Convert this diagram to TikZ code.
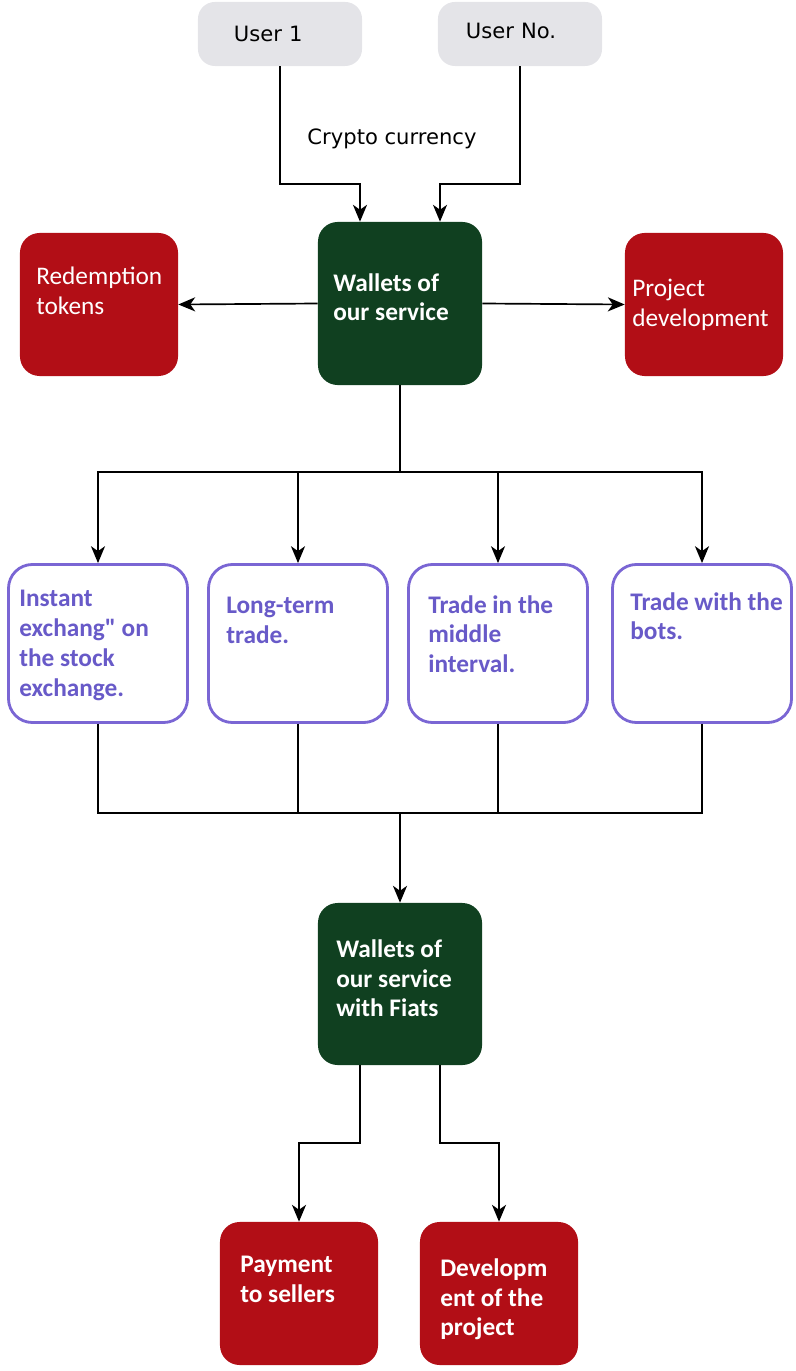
\documentclass[tikz,border=0pt]{standalone}
\usepackage{fontspec}
\setmainfont{Carlito}[Ligatures=TeXOff]
\newfontfamily\dejavu{DejaVu Sans}
\usetikzlibrary{arrows.meta}
\definecolor{usergray}{RGB}{228,228,232}
\definecolor{walletgreen}{RGB}{16,64,32}
\definecolor{tokenred}{RGB}{178,14,22}
\definecolor{tradeline}{RGB}{122,102,212}
\definecolor{tradetext}{RGB}{104,90,200}
\tikzset{
  userbox/.style={rectangle, rounded corners=12pt, fill=usergray, minimum width=4.1cm, minimum height=1.6cm, text width=3.3cm, font=\dejavu\fontsize{15}{18}\selectfont},
  walletbox/.style={rectangle, rounded corners=14pt, fill=walletgreen, minimum width=4.1cm},
  redbox/.style={rectangle, rounded corners=14pt, fill=tokenred, minimum width=3.95cm, minimum height=3.575cm},
  tradebox/.style={rectangle, rounded corners=17pt, draw=tradeline, line width=2pt, minimum width=4.475cm, minimum height=3.95cm},
  boxtext/.style={anchor=north west, inner sep=0pt, align=left, text=white, font=\fontsize{18}{21.3}\selectfont},
  boldtext/.style={boxtext, font=\bfseries\fontsize{18}{21.3}\selectfont},
  tradetxt/.style={boldtext, text=tradetext},
  line/.style={line width=1.2pt},
  arr/.style={line, -{Stealth[length=12pt, width=10pt, inset=3.5pt]}}
}
\begin{document}
\begin{tikzpicture}[x=0.025cm, y=-0.025cm]
\useasboundingbox (0,0) rectangle (795,1371);
\node[userbox] (user1) at (280,34) {\hspace{0.5cm}User 1};
\node[userbox] (userN) at (520,34) {\raisebox{4pt}{\hspace{0.3cm}User No.}};
\node[font=\dejavu\fontsize{15}{18}\selectfont] (crypto) at (392,139) {Crypto currency};
\node[walletbox, minimum height=4.075cm] (wallet) at (400,303.5) {};
\node[redbox] (redeem) at (99,304.5) {};
\node[redbox] (project) at (704,304.5) {};
\node[tradebox] (instant) at (98,643.5) {};
\node[tradebox] (longterm) at (298,643.5) {};
\node[tradebox] (middle) at (498,643.5) {};
\node[tradebox] (bots) at (702,643.5) {};
\node[walletbox, minimum height=4.05cm] (fiat) at (400,984) {};
\node[redbox] (payment) at (299,1293.5) {};
\node[redbox] (develop) at (499,1293.5) {};
% texts sit in the upper left of their boxes
\node[boxtext] (redeemtext) at (36,267) {Redemption\\tokens};
\node[boldtext] (wallettext) at (333,273) {Wallets of\\our service};
\node[boxtext] (projecttext) at (632,279) {Project\\development};
\node[tradetxt] (instanttext) at (19,590) {Instant\\exchang" on\\the stock\\exchange.};
\node[tradetxt] (longtermtext) at (226,597) {Long-term\\trade.};
\node[tradetxt] (middletext) at (428,595) {Trade in the\\middle\\interval.};
\node[tradetxt] (botstext) at (630,592) {Trade with the\\bots.};
\node[boldtext] (fiattext) at (336,939) {Wallets of\\our service\\with Fiats};
\node[boldtext] (paymenttext) at (240,1256) {Payment\\to sellers};
\node[boldtext] (developtext) at (440,1258) {Developm\\ent of the\\project};
% connectors
\draw[arr] (user1.south) -- ++(0,118) -| ([xshift=-1cm]wallet.north);
\draw[arr] (userN.south) -- ++(0,118) -| ([xshift=1cm]wallet.north);
\draw[arr] (wallet.west) -- (redeem.east);
\draw[arr] (wallet.east) -- (project.west);
\draw[line] (wallet.south) -- ++(0,87) coordinate (split);
\foreach \b in {instant,longterm,middle,bots} \draw[arr] (split) -| (\b.north);
\coordinate (merge) at (400,813);
\foreach \b in {instant,longterm,middle,bots} \draw[line] (\b.south) |- (merge);
\draw[arr] (merge) -- (fiat.north);
\draw[arr] ([xshift=-1cm]fiat.south) -- ++(0,78) -| (payment.north);
\draw[arr] ([xshift=1cm]fiat.south) -- ++(0,78) -| (develop.north);
\end{tikzpicture}
\end{document}
